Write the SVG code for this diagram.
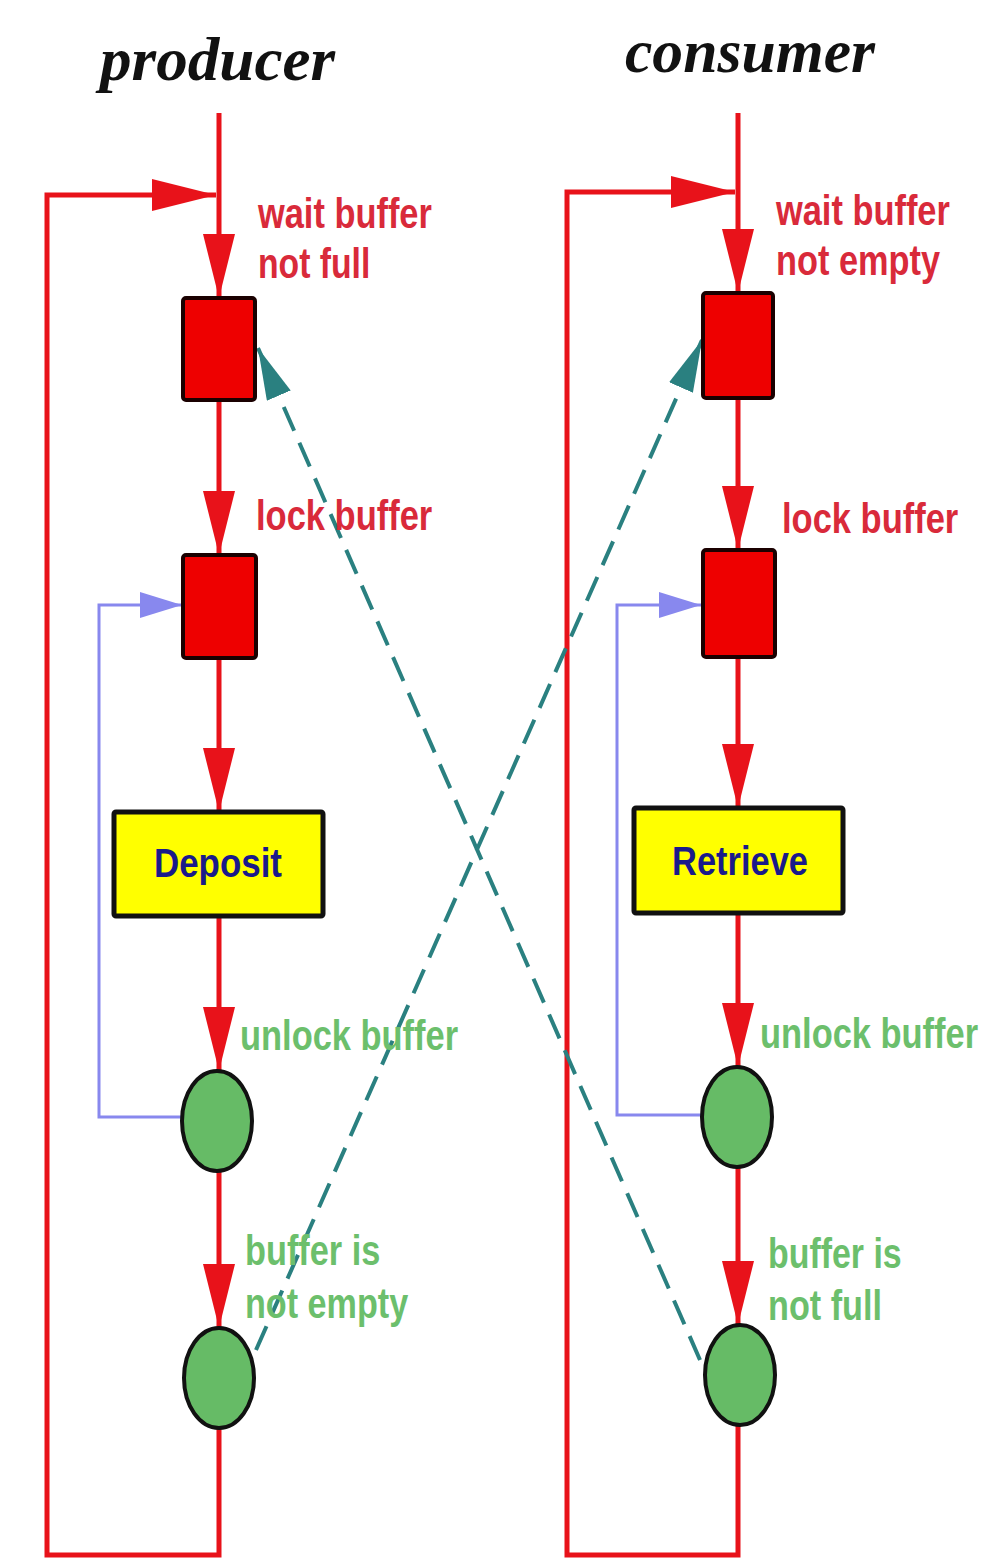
<svg xmlns="http://www.w3.org/2000/svg" width="991" height="1562" viewBox="0 0 991 1562">
<style>
.title{font-family:"Liberation Serif",serif;font-style:italic;font-weight:bold;font-size:62px;fill:#111}
.rl{font-family:"Liberation Sans",Arial,sans-serif;font-weight:bold;font-size:42px;fill:#d92a3a}
.gl{font-family:"Liberation Sans",Arial,sans-serif;font-weight:bold;font-size:42px;fill:#6cbf6c}
.bl{font-family:"Liberation Sans",Arial,sans-serif;font-weight:bold;font-size:40px;fill:#1a1a8a}
.red{fill:none;stroke:#e8121a;stroke-width:5}
.blue{fill:none;stroke:#8888ee;stroke-width:3}
.teal{fill:none;stroke:#2a8080;stroke-width:4;stroke-dasharray:26 13}
.sq{fill:#ee0000;stroke:#1a0000;stroke-width:4}
.yb{fill:#ffff00;stroke:#111;stroke-width:5}
.ci{fill:#66bb66;stroke:#111;stroke-width:4}
</style>
<defs>
<marker id="ar" markerUnits="userSpaceOnUse" markerWidth="70" markerHeight="40" refX="64" refY="16" orient="auto"><path d="M0,0 L64,16 L0,32 Z" fill="#e8121a"/></marker>
<marker id="ab" markerUnits="userSpaceOnUse" markerWidth="50" markerHeight="30" refX="42" refY="13" orient="auto"><path d="M0,0 L42,13 L0,26 Z" fill="#8888ee"/></marker>
<marker id="at" markerUnits="userSpaceOnUse" markerWidth="60" markerHeight="30" refX="52" refY="13" orient="auto"><path d="M0,0 L52,13 L0,26 Z" fill="#2a8080"/></marker>
</defs>
<rect width="991" height="1562" fill="#ffffff"/>
<g id="titles">
<text class="title" x="100" y="80" textLength="235" lengthAdjust="spacingAndGlyphs">producer</text>
<text class="title" x="625" y="72" textLength="250" lengthAdjust="spacingAndGlyphs">consumer</text>
</g>
<g id="connectors">
<line class="red" x1="219" y1="113" x2="219" y2="298" marker-end="url(#ar)"/>
<line class="red" x1="219" y1="400" x2="219" y2="555" marker-end="url(#ar)"/>
<line class="red" x1="219" y1="658" x2="219" y2="812" marker-end="url(#ar)"/>
<line class="red" x1="219" y1="916" x2="219" y2="1071" marker-end="url(#ar)"/>
<line class="red" x1="219" y1="1171" x2="219" y2="1328" marker-end="url(#ar)"/>
<path class="red" d="M219,1428 L219,1555 L47,1555 L47,195 L216,195" marker-end="url(#ar)"/>
<line class="red" x1="738" y1="113" x2="738" y2="293" marker-end="url(#ar)"/>
<line class="red" x1="738" y1="398" x2="738" y2="550" marker-end="url(#ar)"/>
<line class="red" x1="738" y1="657" x2="738" y2="808" marker-end="url(#ar)"/>
<line class="red" x1="738" y1="913" x2="738" y2="1067" marker-end="url(#ar)"/>
<line class="red" x1="738" y1="1167" x2="738" y2="1325" marker-end="url(#ar)"/>
<path class="red" d="M738,1425 L738,1555 L567,1555 L567,192 L735,192" marker-end="url(#ar)"/>
<path class="blue" d="M183,1117 L99,1117 L99,605 L182,605" marker-end="url(#ab)"/>
<path class="blue" d="M702,1115 L617,1115 L617,605 L701,605" marker-end="url(#ab)"/>
<line class="teal" x1="256" y1="1350" x2="702" y2="340" marker-end="url(#at)"/>
<line class="teal" x1="700" y1="1360" x2="258" y2="348" marker-end="url(#at)"/>
</g>
<g id="p-wait"><rect class="sq" x="183" y="298" width="72" height="102" rx="3"/></g>
<g id="p-lock"><rect class="sq" x="183" y="555" width="73" height="103" rx="3"/></g>
<g id="p-deposit"><rect class="yb" x="114" y="812" width="209" height="104" rx="2"/><text class="bl" x="218" y="877" text-anchor="middle" textLength="128" lengthAdjust="spacingAndGlyphs">Deposit</text></g>
<g id="p-unlock"><ellipse class="ci" cx="217" cy="1121" rx="35" ry="50"/></g>
<g id="p-notempty"><ellipse class="ci" cx="219" cy="1378" rx="35" ry="50"/></g>
<g id="c-wait"><rect class="sq" x="703" y="293" width="70" height="105" rx="3"/></g>
<g id="c-lock"><rect class="sq" x="703" y="550" width="72" height="107" rx="3"/></g>
<g id="c-retrieve"><rect class="yb" x="634" y="808" width="209" height="105" rx="2"/><text class="bl" x="740" y="875" text-anchor="middle" textLength="136" lengthAdjust="spacingAndGlyphs">Retrieve</text></g>
<g id="c-unlock"><ellipse class="ci" cx="737" cy="1117" rx="35" ry="50"/></g>
<g id="c-notfull"><ellipse class="ci" cx="740" cy="1375" rx="35" ry="50"/></g>
<g id="labels">
<text class="rl" transform="translate(258,228) scale(0.82,1)" textLength="212" lengthAdjust="spacingAndGlyphs">wait buffer</text>
<text class="rl" transform="translate(258,278) scale(0.82,1)" textLength="137" lengthAdjust="spacingAndGlyphs">not full</text>
<text class="rl" transform="translate(256,530) scale(0.82,1)" textLength="215" lengthAdjust="spacingAndGlyphs">lock buffer</text>
<text class="rl" transform="translate(776,225) scale(0.82,1)" textLength="212" lengthAdjust="spacingAndGlyphs">wait buffer</text>
<text class="rl" transform="translate(776,275) scale(0.82,1)" textLength="200" lengthAdjust="spacingAndGlyphs">not empty</text>
<text class="rl" transform="translate(782,533) scale(0.82,1)" textLength="215" lengthAdjust="spacingAndGlyphs">lock buffer</text>
<text class="gl" transform="translate(240,1050) scale(0.82,1)" textLength="266" lengthAdjust="spacingAndGlyphs">unlock buffer</text>
<text class="gl" transform="translate(245,1265) scale(0.82,1)" textLength="165" lengthAdjust="spacingAndGlyphs">buffer is</text>
<text class="gl" transform="translate(245,1318) scale(0.82,1)" textLength="199" lengthAdjust="spacingAndGlyphs">not empty</text>
<text class="gl" transform="translate(760,1048) scale(0.82,1)" textLength="266" lengthAdjust="spacingAndGlyphs">unlock buffer</text>
<text class="gl" transform="translate(768,1268) scale(0.82,1)" textLength="163" lengthAdjust="spacingAndGlyphs">buffer is</text>
<text class="gl" transform="translate(768,1320) scale(0.82,1)" textLength="139" lengthAdjust="spacingAndGlyphs">not full</text>
</g>
</svg>
